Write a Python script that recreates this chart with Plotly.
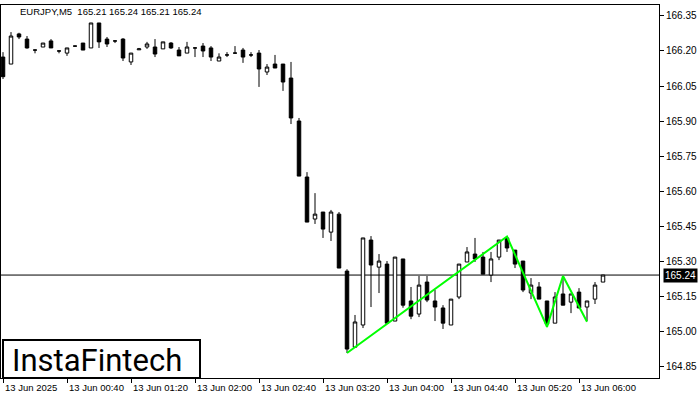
import datetime as dt
import plotly.graph_objects as go

symbol_title = "EURJPY,M5  165.21 165.24 165.21 165.24"
start_time = dt.datetime(2025, 6, 13, 0, 0)
bar_minutes = 5

opens = [166.174, 166.144, 166.273, 166.251, 166.204, 166.217, 166.243, 166.200, 166.191, 166.221,
         166.234, 166.213, 166.320, 166.251, 166.243, 166.251, 166.153, 166.205, 166.217, 166.217,
         166.209, 166.234, 166.204, 166.191, 166.213, 166.221, 166.213, 166.157, 166.183, 166.191,
         166.204, 166.183, 166.191, 166.110, 166.144, 166.144, 166.084, 165.900, 165.660, 165.480,
         165.510, 165.424, 165.501, 165.257, 164.931, 165.026, 165.390, 165.274, 165.287, 165.043,
         165.309, 165.129, 165.073, 165.210, 165.129, 165.099, 165.026, 165.146, 165.296, 165.330,
         165.317, 165.240, 165.317, 165.399, 165.347, 165.300, 165.163, 165.189, 165.129, 165.034,
         165.159, 165.124, 165.167, 165.103, 165.137, 165.210]
highs = [166.195, 166.281, 166.278, 166.264, 166.206, 166.234, 166.251, 166.202, 166.213, 166.223,
         166.234, 166.320, 166.320, 166.260, 166.245, 166.255, 166.191, 166.213, 166.239, 166.251,
         166.239, 166.238, 166.217, 166.239, 166.215, 166.234, 166.221, 166.190, 166.195, 166.221,
         166.213, 166.195, 166.204, 166.144, 166.183, 166.144, 166.153, 165.913, 165.681, 165.591,
         165.510, 165.519, 165.510, 165.265, 165.069, 165.399, 165.407, 165.330, 165.300, 165.317,
         165.309, 165.189, 165.236, 165.236, 165.176, 165.111, 165.137, 165.287, 165.360, 165.399,
         165.339, 165.339, 165.390, 165.407, 165.347, 165.300, 165.227, 165.210, 165.129, 165.167,
         165.236, 165.159, 165.184, 165.129, 165.210, 165.240]
lows = [166.080, 166.144, 166.251, 166.210, 166.190, 166.217, 166.213, 166.190, 166.179, 166.219,
        166.204, 166.213, 166.213, 166.217, 166.234, 166.157, 166.140, 166.205, 166.209, 166.174,
        166.209, 166.209, 166.200, 166.191, 166.174, 166.174, 166.157, 166.157, 166.174, 166.189,
        166.149, 166.174, 166.046, 166.097, 166.127, 166.029, 165.887, 165.664, 165.467, 165.459,
        165.399, 165.386, 165.270, 164.906, 164.931, 165.013, 165.103, 165.163, 165.034, 165.043,
        165.100, 165.051, 165.060, 165.124, 165.043, 165.009, 165.026, 165.137, 165.296, 165.296,
        165.244, 165.210, 165.304, 165.339, 165.270, 165.167, 165.137, 165.137, 165.017, 165.034,
        165.111, 165.077, 165.099, 165.043, 165.116, 165.210]
closes = [166.090, 166.264, 166.260, 166.213, 166.204, 166.234, 166.213, 166.200, 166.213, 166.221,
          166.204, 166.320, 166.239, 166.230, 166.243, 166.170, 166.191, 166.209, 166.230, 166.187,
          166.239, 166.213, 166.179, 166.217, 166.213, 166.200, 166.174, 166.174, 166.183, 166.191,
          166.174, 166.183, 166.123, 166.131, 166.127, 166.067, 165.913, 165.664, 165.467, 165.501,
          165.437, 165.510, 165.270, 164.923, 165.039, 165.399, 165.283, 165.300, 165.034, 165.317,
          165.111, 165.064, 165.197, 165.133, 165.103, 165.034, 165.137, 165.287, 165.339, 165.309,
          165.244, 165.309, 165.390, 165.356, 165.287, 165.176, 165.197, 165.137, 165.030, 165.146,
          165.111, 165.159, 165.099, 165.129, 165.197, 165.240]

pattern_idx = [43, 63, 68, 70, 73]
pattern_price = [164.906, 165.405, 165.018, 165.236, 165.040]

current_price = 165.24

y_ticks = [164.85, 165.00, 165.15, 165.30, 165.45, 165.60, 165.75, 165.90, 166.05, 166.20, 166.35]
y_range = [164.799, 166.397]

x_tick_idx = [0, 8, 16, 24, 32, 40, 48, 56, 64, 72]
x_tick_labels = ["13 Jun 2025", "13 Jun 00:40", "13 Jun 01:20", "13 Jun 02:00", "13 Jun 02:40",
                 "13 Jun 03:20", "13 Jun 04:00", "13 Jun 04:40", "13 Jun 05:20", "13 Jun 06:00"]

logo_text = "InstaFintech"

times = [start_time + dt.timedelta(minutes=bar_minutes * i) for i in range(len(opens))]
x_range = [start_time - dt.timedelta(minutes=bar_minutes * 0.25),
           start_time + dt.timedelta(minutes=bar_minutes * 82.0)]
tick_times = [start_time + dt.timedelta(minutes=bar_minutes * i) for i in x_tick_idx]

FONT = "Liberation Sans"

fig = go.Figure()
fig.add_trace(go.Candlestick(
    x=times, open=opens, high=highs, low=lows, close=closes,
    increasing=dict(fillcolor="white", line=dict(color="black", width=1)),
    decreasing=dict(fillcolor="black", line=dict(color="black", width=1)),
    whiskerwidth=0, showlegend=False, hoverinfo="skip",
))
fig.add_trace(go.Scatter(
    x=[times[i] for i in pattern_idx], y=pattern_price, mode="lines",
    line=dict(color="#00ff00", width=2), showlegend=False, hoverinfo="skip",
))

fig.add_shape(type="line", xref="paper", x0=0, x1=1, yref="y", y0=current_price, y1=current_price,
              line=dict(color="black", width=1), layer="below")

# logo box
fig.add_shape(type="rect", xref="paper", yref="paper", x0=2 / 658, x1=199 / 658, y0=0, y1=38 / 373,
              fillcolor="white", line=dict(color="black", width=2), layer="above")
fig.add_annotation(xref="paper", yref="paper", x=96 / 658, y=18 / 373, text=logo_text,
                   showarrow=False, font=dict(family="Roboto", size=31, color="black"),
                   xanchor="center", yanchor="middle")

# title
fig.add_annotation(xref="paper", yref="paper", x=17 / 658, y=1 - 6 / 373, text=symbol_title,
                   showarrow=False, font=dict(family=FONT, size=9.5, color="black"),
                   xanchor="left", yanchor="middle")

# current price label
fig.add_annotation(xref="paper", yref="y", x=1, y=current_price, xshift=4,
                   text=f"{current_price:.2f}", showarrow=False, bgcolor="black",
                   font=dict(family=FONT, size=10, color="white"), xanchor="left", yanchor="middle",
                   borderpad=1)

# time labels (left aligned at tick)
for t, lab in zip(tick_times, x_tick_labels):
    fig.add_annotation(xref="x", yref="paper", x=t, y=0, yshift=-2, xshift=0, text=lab,
                       showarrow=False, font=dict(family=FONT, size=9.5, color="black"),
                       xanchor="left", yanchor="top")

fig.update_layout(
    width=700, height=400,
    margin=dict(l=1, r=41, t=5, b=22),
    paper_bgcolor="white", plot_bgcolor="white",
    boxgap=0.375,
    xaxis=dict(type="date", range=x_range, rangeslider=dict(visible=False),
               showgrid=False, zeroline=False, showline=True, mirror=True,
               linecolor="black", linewidth=1,
               tickvals=tick_times, showticklabels=False,
               ticks="outside", ticklen=4, tickcolor="black"),
    yaxis=dict(range=y_range, side="right", showgrid=False, zeroline=False,
               showline=True, mirror=True, linecolor="black", linewidth=1,
               tickvals=y_ticks, tickformat=".2f", ticks="outside", ticklen=4,
               tickcolor="black", tickfont=dict(family=FONT, size=10, color="black")),
    font=dict(family=FONT),
)

fig.write_html("out.html", config={"displayModeBar": False},
               post_script="document.body.style.margin='0';document.body.style.overflow='hidden';")
